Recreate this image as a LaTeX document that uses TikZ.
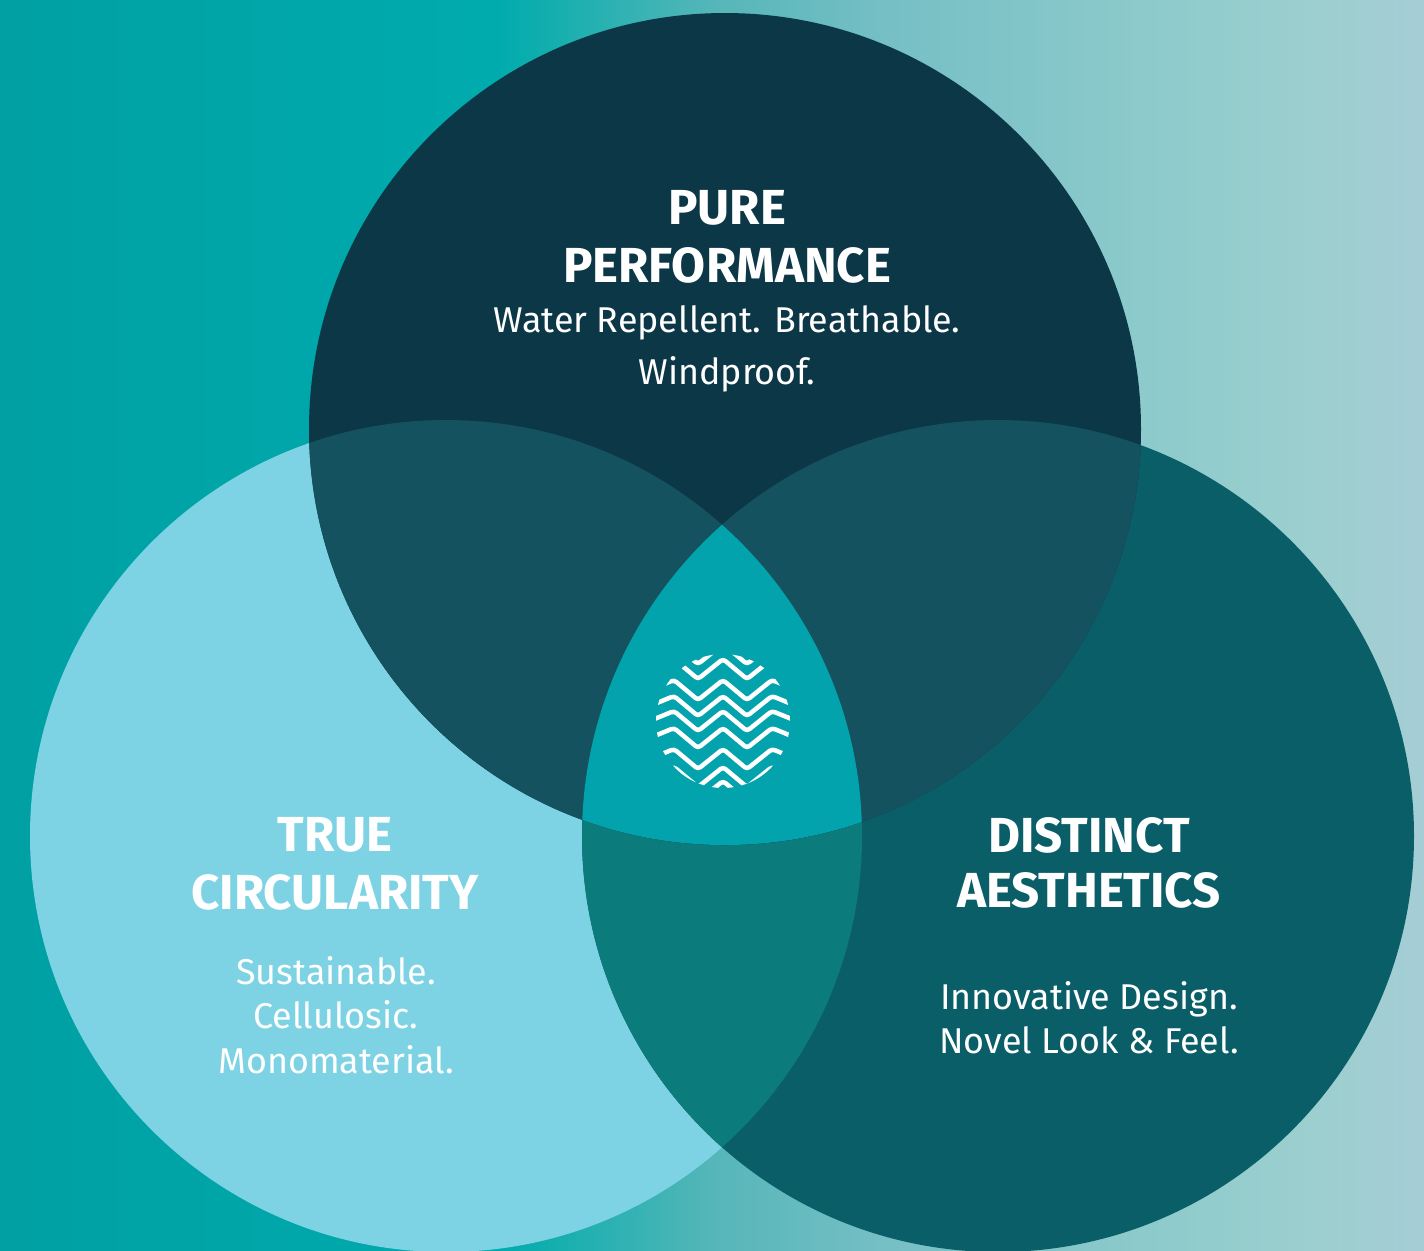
\documentclass[tikz,border=0pt]{standalone}
\usepackage{fontspec}
\setmainfont{Fira Sans}
\definecolor{topdark}{HTML}{0C3747}
\definecolor{overlap}{HTML}{15525F}
\definecolor{core}{HTML}{02A3AD}
\definecolor{leftpale}{HTML}{7DD3E4}
\definecolor{rightdark}{HTML}{0A5E68}
\definecolor{lowmid}{HTML}{0C7B7B}
\pgfdeclarehorizontalshading{backdrop}{100bp}{
  rgb(0bp)=(0,.627,.639); rgb(25bp)=(0,.627,.639); rgb(42.5bp)=(0,.671,.682);
  rgb(44bp)=(.063,.682,.682); rgb(50bp)=(.333,.714,.722); rgb(56bp)=(.459,.749,.773);
  rgb(65bp)=(.549,.792,.796); rgb(71bp)=(.612,.812,.812); rgb(75bp)=(.647,.804,.835);
  rgb(100bp)=(.647,.804,.835)}
\tikzset{
  heading/.style={text=white,font=\fontsize{14}{16.4}\selectfont\bfseries,align=center},
  blurb/.style={text=white,font=\fontsize{10.2}{12.6}\selectfont,align=center},
  wave/.style={white,line width=0.045cm,rounded corners=0.03cm}
}
\def\toppath{(725,429) circle (416)}
\def\leftpath{(446,836) circle (416)}
\def\rightpath{(998,836) circle (416)}
\begin{document}
\begin{tikzpicture}[x=0.01cm,y=-0.01cm]
   \useasboundingbox (0,0) rectangle (1424,1250);
   \begin{scope}
      \clip (0,0) rectangle (1424,1250);
      \shade [shading=backdrop] (0,0) rectangle (1424,1250);
      \fill [leftpale] \leftpath;
      \fill [rightdark] \rightpath;
      \begin{scope}
         \clip \leftpath;
         \fill [lowmid] \rightpath;
      \end{scope}
      \fill [topdark] \toppath;
      \begin{scope}
         \clip \toppath;
         \fill [overlap] \leftpath;
         \fill [overlap] \rightpath;
         \clip \leftpath;
         \fill [core] \rightpath;
      \end{scope}
      % logo
      \begin{scope}
         \clip (723,721) circle (67);
         \foreach \ypk in {644,659,680,696,711,728,749,767,781} {
            \draw [wave] (625,\ypk+20) -- (674,\ypk) -- (698,\ypk+20) -- (723,\ypk)
               -- (747,\ypk+20) -- (772,\ypk) -- (821,\ypk+20);
         }
      \end{scope}
   \end{scope}
   \node [heading] (pure) at (727,237) {PURE\\PERFORMANCE};
   \node [blurb] (pureText) at (727,349) {Water Repellent. Breathable.\\[2.2pt]Windproof.};
   \node [heading] (true) at (335,864) {TRUE\\CIRCULARITY};
   \node [blurb] (trueText) at (336,1015) {Sustainable.\\Cellulosic.\\Monomaterial.};
   \node [heading] (distinct) at (1089,863) {DISTINCT\\[-0.6pt]AESTHETICS};
   \node [blurb] (distinctText) at (1089,1018) {Innovative Design.\\Novel Look \& Feel.};
\end{tikzpicture}
\end{document}
